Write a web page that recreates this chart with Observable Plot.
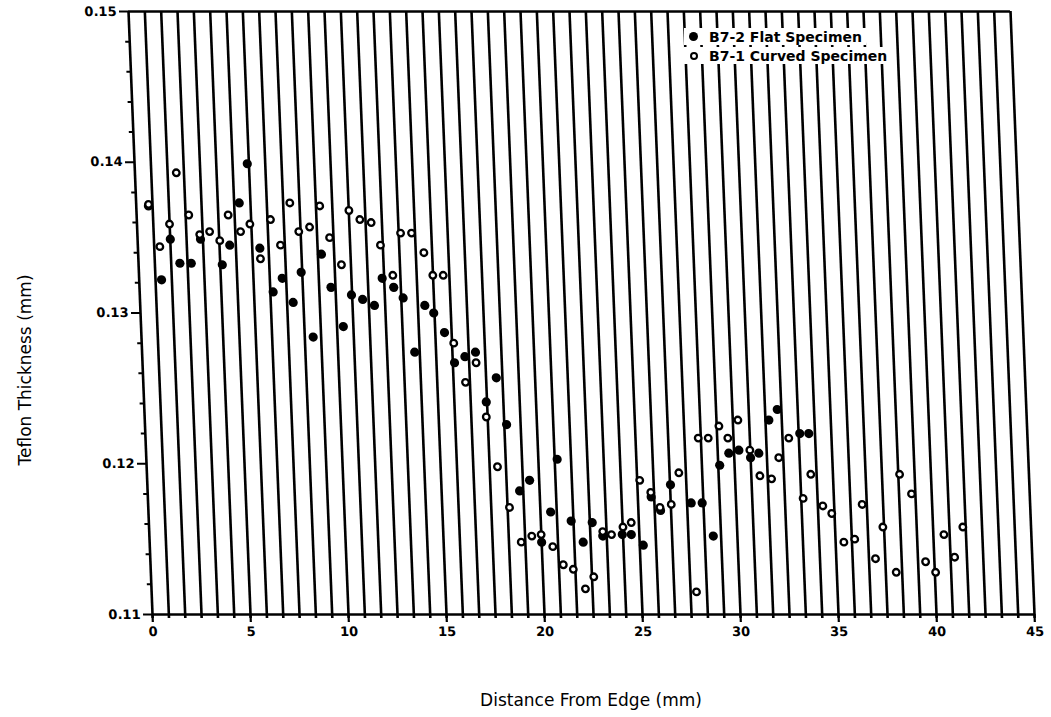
<!DOCTYPE html>
<html>
<head>
<meta charset="utf-8">
<script src="https://cdn.jsdelivr.net/npm/d3@7"></script>
<script src="https://cdn.jsdelivr.net/npm/@observablehq/plot@0.6"></script>
<style>
  html, body { margin: 0; padding: 0; background: #fff; }
  #wrap { position: relative; width: 1051px; height: 717px; overflow: hidden; }
  #chart svg { transform: skewX(2.28deg); transform-origin: 0px 614px; }
  .title { position: absolute; font-family: "DejaVu Sans", sans-serif; font-size: 17px; color: #000; white-space: nowrap; }
  #xt { left: 591px; top: 690px; transform: translateX(-50%); }
  #yt { left: 25px; top: 370px; transform: translate(-50%, -50%) rotate(-90deg); }
  .lg { position: absolute; background: #fff; display: flex; align-items: center;
        font-family: "DejaVu Sans", sans-serif; font-weight: bold; font-size: 14px; color: #000;
        height: 17px; padding-right: 4px; white-space: nowrap; }
  .mk { display: inline-block; box-sizing: border-box; border-radius: 50%; margin: 0 11px 0 5px; }
  .mk.f { width: 9px; height: 9px; background: #000; }
  .mk.o { width: 8px; height: 8px; border: 2px solid #000; background: #fff; margin-left: 5.5px; margin-right: 11.5px; }
</style>
</head>
<body>
<div id="wrap">
  <div id="chart"></div>
  <div class="title" id="xt">Distance From Edge (mm)</div>
  <div class="title" id="yt">Teflon Thickness (mm)</div>
  <div class="lg" style="left:684px; top:28px;"><span class="mk f"></span>B7-2 Flat Specimen</div>
  <div class="lg" style="left:684px; top:47px;"><span class="mk o"></span>B7-1 Curved Specimen</div>
</div>
<script>
// Series: B7-2 Flat Specimen (filled)
const flatX = [0.62,1.14,1.67,2.11,2.69,3.21,4.27,4.69,5.26,5.75,6.22,6.81,7.30,7.81,8.28,8.76,9.35,9.77,10.32,10.80,11.36,11.95,12.40,12.97,13.43,13.91,14.52,14.96,15.47,15.92,16.46,17.01,17.46,18.02,18.45,18.98,19.51,20.00,20.52,20.96,21.55,22.12,22.62,23.13,24.13,24.59,25.18,25.68,26.13,26.69,27.71,28.27,28.77,29.24,29.73,30.25,30.83,31.26,31.84,32.29,33.39,33.85];
const flatY = [0.1371,0.1322,0.1349,0.1333,0.1333,0.1349,0.1332,0.1345,0.1373,0.1399,0.1343,0.1314,0.1323,0.1307,0.1327,0.1284,0.1339,0.1317,0.1291,0.1312,0.1309,0.1305,0.1323,0.1317,0.1310,0.1274,0.1305,0.1300,0.1287,0.1267,0.1271,0.1274,0.1241,0.1257,0.1226,0.1182,0.1189,0.1148,0.1168,0.1203,0.1162,0.1148,0.1161,0.1152,0.1153,0.1153,0.1146,0.1178,0.1169,0.1186,0.1174,0.1174,0.1152,0.1199,0.1207,0.1209,0.1204,0.1207,0.1229,0.1236,0.1220,0.1220];

// Series: B7-1 Curved Specimen (open)
const curvedX = [0.63,1.12,1.66,2.11,2.66,3.18,3.69,4.19,4.67,5.27,5.76,6.23,6.82,7.28,7.84,8.24,8.80,9.36,9.80,10.35,10.84,11.38,11.95,12.38,12.95,13.43,13.99,14.58,14.99,15.52,15.92,16.44,17.02,17.43,17.90,18.43,18.96,19.51,19.99,20.56,21.06,21.56,22.14,22.59,23.14,23.58,24.18,24.61,25.13,25.67,26.11,26.69,27.14,27.80,28.20,28.71,29.28,29.71,30.26,30.81,31.27,31.86,32.27,32.82,33.43,33.87,34.42,34.86,35.42,35.98,36.43,37.00,37.44,38.03,38.40,38.97,39.55,40.04,40.54,41.04,41.52];
const curvedY = [0.1372,0.1344,0.1359,0.1393,0.1365,0.1352,0.1354,0.1348,0.1365,0.1354,0.1359,0.1336,0.1362,0.1345,0.1373,0.1354,0.1357,0.1371,0.1350,0.1332,0.1368,0.1362,0.1360,0.1345,0.1325,0.1353,0.1353,0.1340,0.1325,0.1325,0.1280,0.1254,0.1267,0.1231,0.1198,0.1171,0.1148,0.1152,0.1153,0.1145,0.1133,0.1130,0.1117,0.1125,0.1155,0.1153,0.1158,0.1161,0.1189,0.1181,0.1171,0.1173,0.1194,0.1115,0.1217,0.1217,0.1225,0.1217,0.1229,0.1209,0.1192,0.1190,0.1204,0.1217,0.1177,0.1193,0.1172,0.1167,0.1148,0.1150,0.1173,0.1137,0.1158,0.1128,0.1193,0.1180,0.1135,0.1128,0.1153,0.1138,0.1158];

// Axis ticks
const xMajorTicks = [0,5,10,15,20,25,30,35,40,45];
const xMinorStep = 5/6;
const yMajorTicks = [0.11,0.12,0.13,0.14,0.15];
const yMinorTicks = [0.112,0.114,0.116,0.118,0.122,0.124,0.126,0.128,0.132,0.134,0.136,0.138,0.142,0.144,0.146,0.148];

const flat = flatX.map((x, i) => ({x, y: flatY[i]}));
const curved = curvedX.map((x, i) => ({x, y: curvedY[i]}));
const gridX = d3.range(0, 55).map(i => +(i * xMinorStep).toFixed(4));

const chart = Plot.plot({
  width: 1051,
  height: 717,
  marginLeft: 152,
  marginRight: 17,
  marginTop: 11,
  marginBottom: 103,
  x: {domain: [0, 45]},
  y: {domain: [0.11, 0.15]},
  style: {fontFamily: "'DejaVu Sans', sans-serif", fontSize: "13px", fontWeight: "bold", color: "#000", background: "#fff", overflow: "visible"},
  marks: [
    Plot.ruleX(gridX, {stroke: "#000", strokeWidth: 2.6, insetBottom: -4}),
    Plot.ruleY([0.15, 0.11], {stroke: "#000", strokeWidth: 2.6}),
    Plot.ruleY(yMinorTicks, {x1: 0, x2: 0, insetLeft: -4, stroke: "#000", strokeWidth: 2}),
    Plot.axisY(yMajorTicks, {tickSize: 9, tickPadding: 3, strokeWidth: 2.2, tickFormat: d => d.toFixed(2), label: null}),
    Plot.axisX(xMajorTicks, {tickSize: 8, tickPadding: 4, strokeWidth: 2.2, tickFormat: d => String(d), label: null}),
    Plot.dot(flat, {x: "x", y: "y", r: 4.6, fill: "#000", stroke: "none"}),
    Plot.dot(curved, {x: "x", y: "y", r: 3.3, fill: "#fff", stroke: "#000", strokeWidth: 2.3})
  ]
});
document.getElementById("chart").appendChild(chart);
</script>
</body>
</html>
